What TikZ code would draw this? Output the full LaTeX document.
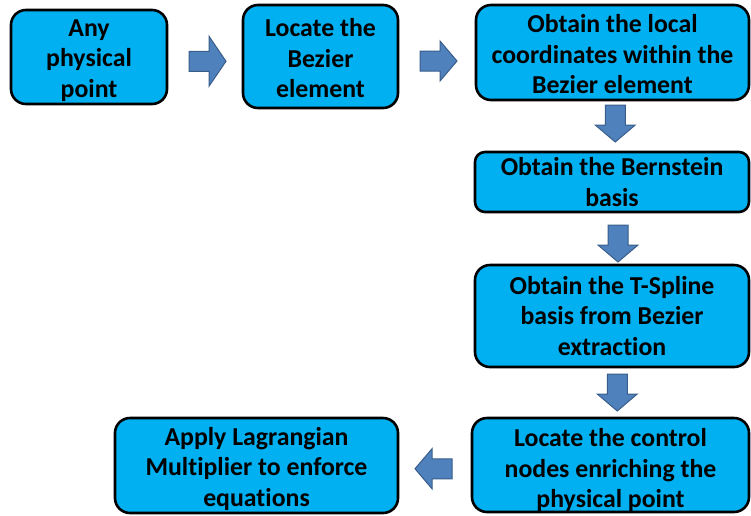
\documentclass[tikz,border=0pt]{standalone}
\usepackage{fontspec}
\setmainfont{Carlito}[Ligatures=NoCommon]
\usetikzlibrary{calc}

\definecolor{boxblue}{HTML}{00B0F0}
\definecolor{arrowfill}{HTML}{4F81BD}
\definecolor{arrowline}{HTML}{385D8A}

% a taller first line pushes the text block a little lower in its box
\newcommand{\tallfirst}[1]{\rule{0pt}{#1}}

\tikzset{
  stepbox/.style={draw=black, line width=2.6pt, fill=boxblue, rounded corners=15pt,
    align=center, inner sep=0pt, font=\fontsize{25.8}{30.5}\selectfont\bfseries,
    text=black},
  pics/blockarrow/.style={code={
    \filldraw[fill=arrowfill, draw=arrowline, line width=1pt]
      (-18.5,-10) -- (1.5,-10) -- (1.5,-#1) -- (18.5,0) -- (1.5,#1)
      -- (1.5,10) -- (-18.5,10) -- cycle;
  }},
  pics/blockarrow/.default=20
}

\begin{document}
\begin{tikzpicture}[x=1pt, y=-1pt]
  \useasboundingbox (0,0) rectangle (751,515);

  % process steps
  \node[stepbox, minimum width=156pt, minimum height=94pt] (b1) at (89,57)
    {\tallfirst{23.5pt}Any\\physical\\point};
  \node[stepbox, minimum width=155pt, minimum height=103pt] (b2) at (320.5,56.5)
    {\tallfirst{21.3pt}Locate the\\Bezier\\element};
  \node[stepbox, minimum width=273pt, minimum height=95pt] (b3) at (612.5,52.5)
    {\tallfirst{21.3pt}Obtain the local\\coordinates within the\\Bezier element};
  \node[stepbox, rounded corners=10pt, minimum width=274pt, minimum height=60pt] (b4) at (612,182)
    {Obtain the Bernstein\\basis};
  \node[stepbox, minimum width=274pt, minimum height=102pt] (b5) at (612,316)
    {Obtain the T-Spline\\basis from Bezier\\extraction};
  \node[stepbox, minimum width=277pt, minimum height=94pt] (b6) at (610.5,465)
    {\tallfirst{28.3pt}Locate the control\\nodes enriching the\\physical point};
  \node[stepbox, minimum width=283pt, minimum height=95pt] (b7) at (256.5,465.5)
    {\tallfirst{24.3pt}Apply Lagrangian\\Multiplier to enforce\\equations};

  % block arrows between the steps
  \pic at ($($(b1.east)!0.5!(b2.west)$)+(2.5,4.5)$) {blockarrow=25};
  \pic at ($($(b2.east)!0.5!(b3.west)$)+(1.5,6.5)$) {blockarrow};
  \pic[rotate=-90] at ($($(b3.south)!0.5!(b4.north)$)+(3,-2.5)$) {blockarrow};
  \pic[rotate=-90] at ($($(b4.south)!0.5!(b5.north)$)+(6,5)$) {blockarrow};
  \pic[rotate=-90] at ($($(b5.south)!0.5!(b6.north)$)+(6,0)$) {blockarrow};
  \pic[rotate=180] at ($($(b6.west)!0.5!(b7.east)$)+(-1.5,3.5)$) {blockarrow};
\end{tikzpicture}
\end{document}
